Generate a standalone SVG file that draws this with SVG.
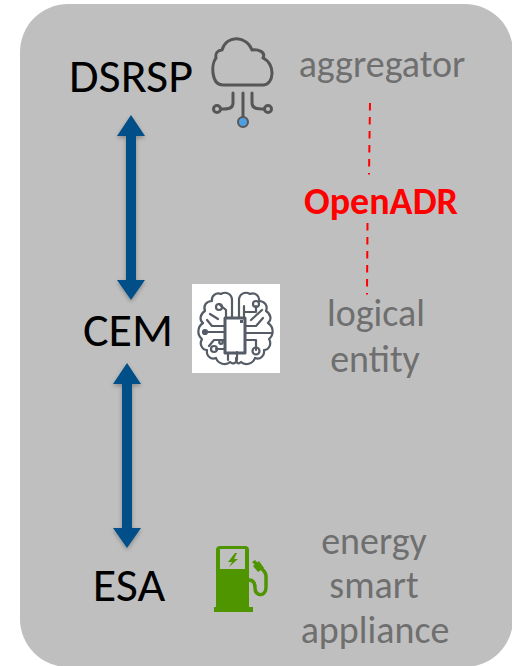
<svg xmlns="http://www.w3.org/2000/svg" width="512" height="666" viewBox="0 0 512 666">
<defs>
<filter id="sh" x="-50%" y="-10%" width="200%" height="120%"><feDropShadow dx="0" dy="2" stdDeviation="2" flood-color="#000" flood-opacity="0.28"/></filter>
<filter id="soft" x="-5%" y="-5%" width="110%" height="110%"><feGaussianBlur stdDeviation="0.45"/></filter>
</defs>
<style>
text{font-family:"Carlito","Open Sans","Liberation Sans",sans-serif;text-anchor:middle}
.k{font-size:48px;fill:#000}
.g{font-size:38px;fill:#6f6f6f}
.a{fill:#004f88;filter:url(#sh)}
.d{stroke:#f00;stroke-width:2;fill:none;stroke-dasharray:7.5 6.5}
.i{fill:none;stroke:#555b66;stroke-width:2.2;stroke-linecap:round;stroke-linejoin:round}
.c{fill:none;stroke:#565656;stroke-width:3;stroke-linecap:round;stroke-linejoin:round}
</style>
<rect width="512" height="666" fill="#fff"/>
<rect id="panel" x="20" y="4" width="493" height="663" rx="48" fill="#bfbfbf"/>
<g id="connectors">
<path class="a" d="M131 115L145 136H136V280H145L131 300L117 280H126V136H117Z"/>
<path class="a" d="M127 363L141 384H132V528H141L127 548L113 528H122V384H113Z"/>
<path class="d" d="M370 103L369 174.500"/>
<path class="d" d="M367.500 223L367 294.500"/>
</g>
<g id="DSRSP"><text class="k" x="131" y="92">DSRSP</text></g>
<g id="CEM"><text class="k" x="128" y="346">CEM</text></g>
<g id="ESA"><text class="k" x="129" y="601">ESA</text></g>
<g id="aggregator"><text class="g" x="382" y="77">aggregator</text>
<g filter="url(#soft)">
<path class="c" d="M223 85H263C274 85 276 64 263 58C266 52 258 49 252 50C247 36 227 34 222 50C218 50 215 53 216 58C211 64 211 85 223 85Z"/>
<path class="c" d="M233 93V103C233 109 228 109 221 109"/><circle class="c" cx="217" cy="109" r="3.500"/>
<path class="c" d="M243 93V118"/>
<path class="c" d="M252 93V103C252 109 258 109 264 109"/><circle class="c" cx="268" cy="109" r="3.500"/>
<circle cx="243" cy="122" r="5" fill="#4f9fe0" stroke="#565656" stroke-width="2"/></g></g>
<g id="openadr"><text x="381" y="214" font-size="38" font-weight="700" fill="#f00">OpenADR</text></g>
<g id="logical"><rect x="192" y="284" width="88" height="89" fill="#fff"/>
<g class="i" filter="url(#soft)">
<path d="M232 300C232 294 226 291 221 294C216 292 211 296 212 301C206 301 203 306 205 311C200 314 199 320 203 323C197 327 197 335 202 339C199 344 202 350 207 350C206 356 211 360 216 358C218 364 226 366 230 362C233 365 237 363 237 358V352"/>
<path d="M239 300C239 294 245 291 250 294C255 292 260 296 259 301C265 301 268 306 266 311C271 314 272 320 268 323C274 327 274 335 269 339C272 344 269 350 264 350C265 356 260 360 255 358C253 364 245 366 241 362C238 365 236 363 236 358"/>
<path d="M232 300V318M239 300V318M226 318V310L219 304M244 318V306M245 312H256V306"/>
<path d="M225 326H212L207 320M225 332H203M225 340H214L209 346M245 326H256L263 318M245 333H272M245 340H256V350"/>
<path d="M228 353V360M225 349H216M210 314L218 319M262 310L251 320"/>
<path stroke-width="3" d="M225 318H245V353H225Z"/>
<circle cx="219" cy="307" r="3"/><circle cx="256" cy="304" r="3"/><circle cx="205" cy="332" r="2"/><circle cx="256" cy="351" r="3.500"/><circle cx="214" cy="349" r="3"/><circle cx="221" cy="342" r="1.800"/>
<rect x="240" y="320" width="3" height="3" fill="#555b66" stroke="none"/></g></g>
<text class="g" x="376" y="326">logical</text><text class="g" x="375" y="372">entity</text>
<g id="appliance"><text class="g" x="374" y="554">energy</text><text class="g" x="374" y="598">smart</text><text class="g" x="375" y="643">appliance</text>
<g filter="url(#soft)">
<path fill="#4f9500" fill-rule="evenodd" d="M220 546H245Q249 546 249 550V607H253V612H214V607H216V550Q216 546 220 546ZM220 549V569H245V549ZM235 553L228 562H232L229 567L238 559H234L237 553Z"/>
<path fill="none" stroke="#4f9500" stroke-width="3.500" d="M249 580C254 580 255 584 255 588C255 597 266 597 266 587V576C266 572 263 570 260 567"/>
<path fill="#4f9500" d="M253 566L259 561L264 568L258 572ZM252 562L255 560L258 563L255 565Z"/></g></g>
</svg>
